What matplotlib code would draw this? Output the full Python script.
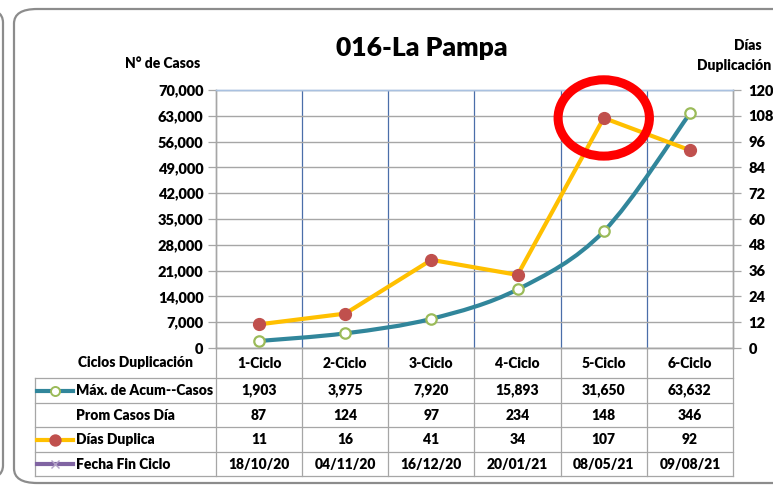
import numpy as np
import matplotlib
matplotlib.use("Agg")
import matplotlib.pyplot as plt
from matplotlib.path import Path
from matplotlib.patches import PathPatch, Ellipse, FancyBboxPatch
from matplotlib.lines import Line2D
from matplotlib.ticker import FuncFormatter, MultipleLocator

# ---------------- data ----------------
ciclos = ["1-Ciclo", "2-Ciclo", "3-Ciclo", "4-Ciclo", "5-Ciclo", "6-Ciclo"]
max_acum_casos = [1903, 3975, 7920, 15893, 31650, 63632]
prom_casos_dia = [87, 124, 97, 234, 148, 346]
dias_duplica = [11, 16, 41, 34, 107, 92]
fecha_fin_ciclo = ["18/10/20", "04/11/20", "16/12/20", "20/01/21", "08/05/21", "09/08/21"]

title = "016-La Pampa"
row_labels = ["Máx. de Acum--Casos", "Prom Casos Día", "Días Duplica", "Fecha Fin Ciclo"]

plt.rcParams['font.family'] = ['Lato', 'DejaVu Sans']
BOLD = "heavy"

W, H = 773, 486
fig = plt.figure(figsize=(W / 100, H / 100), dpi=100)
fig.patch.set_facecolor("white")

def fx(p):
    return p / W

def fy(p):
    return 1 - p / H

# plot area in pixels
L, R, T, B = 216, 733, 90, 348
ax = fig.add_axes([fx(L), fy(B), fx(R) - fx(L), fy(T) - fy(B)])
ax2 = ax.twinx()

n = len(ciclos)
x = np.arange(n)
ax.set_xlim(-0.5, n - 0.5)
ax.set_ylim(0, 70000)
ax2.set_ylim(0, 120)

# ---- axes styling
grid_gray = "#a6a6a6"
ax.yaxis.set_major_locator(MultipleLocator(7000))
ax.yaxis.set_major_formatter(FuncFormatter(lambda v, p: f"{int(v):,}"))
ax2.yaxis.set_major_locator(MultipleLocator(12))
ax.set_xticks([])
ax.set_xticks(np.arange(0.5, n - 0.5, 1), minor=True)
ax.tick_params(axis="x", which="both", length=0, labelbottom=False)
ax.grid(axis="y", color=grid_gray, lw=1.0)
ax.grid(axis="x", which="minor", color="#4a6ea9", lw=0.9)
ax.set_axisbelow(True)
ax.tick_params(axis="y", direction="out", length=6, width=0.9, color=grid_gray,
               pad=3, labelsize=10.5)
ax2.tick_params(axis="y", direction="out", length=6, width=0.9, color=grid_gray,
                pad=5, labelsize=10.5)
for lab in ax.get_yticklabels() + ax2.get_yticklabels():
    lab.set_fontweight(BOLD)
for a in (ax, ax2):
    for s in ("left", "right", "bottom"):
        a.spines[s].set_color(grid_gray)
        a.spines[s].set_linewidth(1.0)
    a.spines["top"].set_color("#a9c1e0")
    a.spines["top"].set_linewidth(1.0)

# ---- smooth line for cases (Bezier through the data points)
teal = "#31869b"
pts = np.column_stack([x, max_acum_casos]).astype(float)
verts = [tuple(pts[0])]
codes = [Path.MOVETO]
for i in range(n - 1):
    p0 = pts[i - 1] if i > 0 else pts[i]
    p1 = pts[i]
    p2 = pts[i + 1]
    p3 = pts[i + 2] if i + 2 < n else pts[i + 1]
    c1 = p1 + (p2 - p0) / 6
    c2 = p2 - (p3 - p1) / 6
    verts += [tuple(c1), tuple(c2), tuple(p2)]
    codes += [Path.CURVE4] * 3
ax.add_patch(PathPatch(Path(verts, codes), fill=False, ec=teal, lw=3.0,
                       capstyle="round", joinstyle="round", zorder=3))
ax.plot(x, max_acum_casos, ls="none", marker="o", ms=7.5, mfc="white",
        mec="#9bbb59", mew=1.6, zorder=4)

# ---- days line
yellow = "#ffc000"
red = "#c0504d"
ax2.plot(x, dias_duplica, color=yellow, lw=3.0, marker="o", ms=8.5, mfc=red,
         mec=red, zorder=3, solid_joinstyle="round")

# ---- red highlight ellipse around the 5th cycle point
ax2.add_patch(Ellipse((x[4], dias_duplica[4]), width=1.06, height=35.5, fill=False,
                      ec="#ff0000", lw=6.5, clip_on=False, zorder=5))

# ---- titles / axis titles
fig.text(fx(422), fy(48), title, ha="center", va="center", fontsize=19,
         fontweight=BOLD)
fig.text(fx(163), fy(63), "N° de Casos", ha="center", va="center", fontsize=10,
         fontweight=BOLD)
fig.text(fx(748), fy(45), "Días", ha="center", va="center", fontsize=10,
         fontweight=BOLD)
fig.text(fx(771), fy(66), "Duplicación", ha="right", va="center", fontsize=10,
         fontweight=BOLD)

# ---------------- data table ----------------
tcol = "#a6a6a6"
row_edges = [B, 378, 403, 427, 452, 476]
TL = 35
def hline(y, x0, x1):
    fig.add_artist(Line2D([fx(x0), fx(x1)], [fy(y), fy(y)], color=tcol, lw=0.9,
                          transform=fig.transFigure))
def vline(xx, y0, y1):
    fig.add_artist(Line2D([fx(xx), fx(xx)], [fy(y0), fy(y1)], color=tcol, lw=0.9,
                          transform=fig.transFigure))

for y in row_edges[1:]:
    hline(y, TL, R)
col_edges = [L + (R - L) * k / n for k in range(n + 1)]
for xe in col_edges:
    vline(xe, B, row_edges[-1])
vline(TL, row_edges[1], row_edges[-1])

centers_y = [(row_edges[k] + row_edges[k + 1]) / 2 for k in range(len(row_edges) - 1)]
col_centers = [(col_edges[k] + col_edges[k + 1]) / 2 for k in range(n)]

fs = 10
fig.text(fx(135), fy(centers_y[0] - 1), "Ciclos Duplicación", ha="center", va="center",
         fontsize=fs, fontweight=BOLD)
for k, c in enumerate(ciclos):
    fig.text(fx(col_centers[k]), fy(centers_y[0]), c, ha="center", va="center",
             fontsize=fs, fontweight=BOLD)

rows_vals = [[f"{v:,}" for v in max_acum_casos],
             [f"{v}" for v in prom_casos_dia],
             [f"{v}" for v in dias_duplica],
             fecha_fin_ciclo]
for r, (lab, vals) in enumerate(zip(row_labels, rows_vals)):
    yc = centers_y[r + 1]
    fig.text(fx(76), fy(yc), lab, ha="left", va="center", fontsize=fs,
             fontweight=BOLD)
    for k, v in enumerate(vals):
        fig.text(fx(col_centers[k]), fy(yc), v, ha="center", va="center",
                 fontsize=fs, fontweight=BOLD)

# legend keys in table
def key(yc, color, marker, mfc, mec, ms, mew=1.4):
    fig.add_artist(Line2D([fx(37), fx(73)], [fy(yc), fy(yc)], color=color, lw=3.0,
                          transform=fig.transFigure))
    fig.add_artist(Line2D([fx(55)], [fy(yc)], ls="none", marker=marker, ms=ms,
                          mfc=mfc, mec=mec, mew=mew, transform=fig.transFigure))
key(centers_y[1], teal, "o", "white", "#9bbb59", 6.5, 1.4)
key(centers_y[3], yellow, "o", red, red, 7.5)
key(centers_y[4], "#8064a2", "x", "none", "#b3a2c7", 5.5, 1.0)

# ---------------- frames ----------------
fig.add_artist(FancyBboxPatch((fx(14), fy(483)), fx(900) - fx(14), fy(9) - fy(483),
                              boxstyle="round,pad=0,rounding_size=0.03",
                              transform=fig.transFigure, fill=False, ec="#8c8c8c",
                              lw=1.6, clip_on=False))
fig.add_artist(FancyBboxPatch((fx(-200), fy(480)), fx(3) - fx(-200), fy(8) - fy(480),
                              boxstyle="round,pad=0,rounding_size=0.03",
                              transform=fig.transFigure, fill=False, ec="#8c8c8c",
                              lw=1.6, clip_on=False))

fig.savefig("out.png", dpi=100)
